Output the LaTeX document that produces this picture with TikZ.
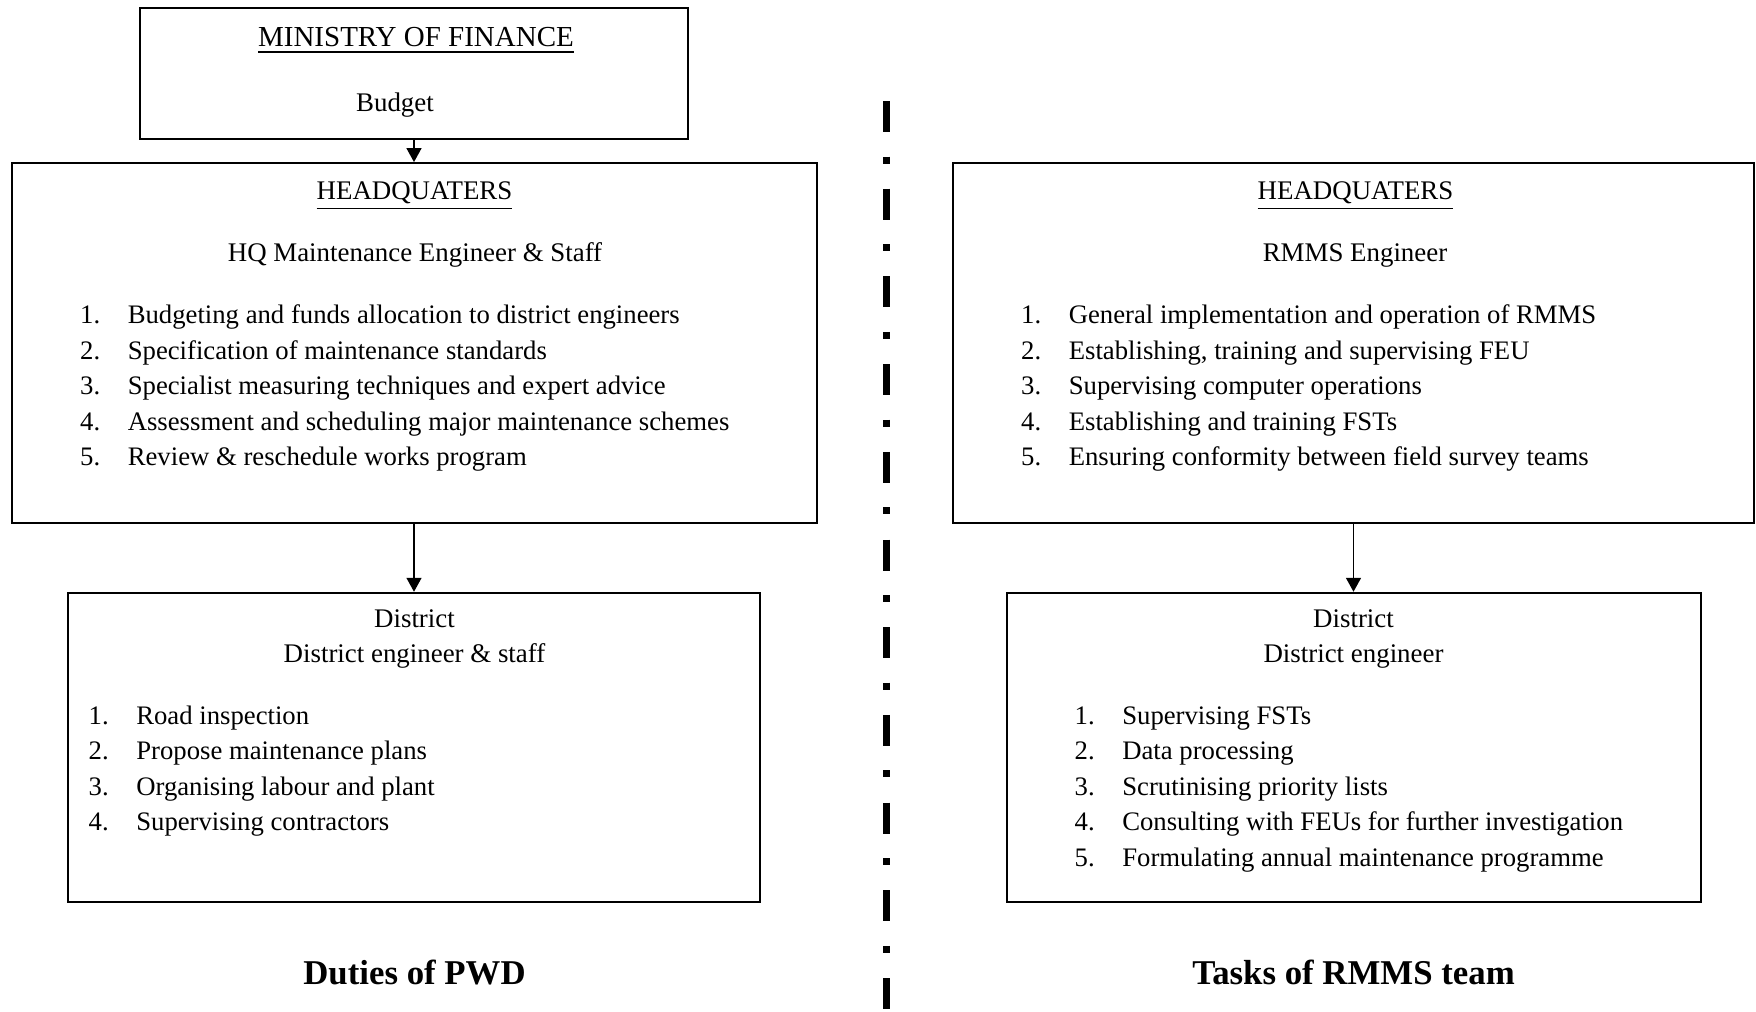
\documentclass[tikz,border=0pt]{standalone}
\usepackage{fontspec}
\setmainfont{Liberation Serif}
\usepackage{tikz}
\usetikzlibrary{arrows.meta,positioning}

\newcommand{\nitem}[2]{\makebox[4.76mm][l]{#1}#2}

\begin{document}
\begin{tikzpicture}[
  x=0.1mm, y=-0.1mm,
  box/.style={draw, line width=0.2mm, inner sep=0pt},
  txt/.style={inner sep=0pt, anchor=base, font=\fontsize{7.65}{10.1}\selectfont},
  lst/.style={inner sep=0pt, anchor=base west, font=\fontsize{7.6}{10.1}\selectfont},
  ttl/.style={inner sep=0pt, anchor=base, font=\fontsize{9.9}{11}\selectfont\bfseries},
  arrow/.style={-{Triangle[length=1.4mm, width=1.5mm]}, line width=0.15mm}
]
\useasboundingbox (0,0) rectangle (1756,1011);

\node[box, minimum width=54.8mm, minimum height=13.15mm] (mof) at (414,73.3) {};
\node[box, minimum width=80.5mm, minimum height=35.97mm] (hql) at (414,342.9) {};
\node[box, minimum width=69.2mm, minimum height=30.93mm] (distl) at (414,747.4) {};
\node[box, minimum width=80.1mm, minimum height=35.97mm] (hqr) at (1353.5,342.9) {};
\node[box, minimum width=69.4mm, minimum height=30.93mm] (distr) at (1353.5,747.4) {};

\node[txt, font=\fontsize{8.25}{10.1}\selectfont] (mofname) at (416,46.7) {\underline{MINISTRY OF FINANCE}};
\node[txt] (mofbudget) at (395,111) {Budget};

\node[txt] (hqlname) at (414.5,199) {\underline{HEADQUATERS}};
\node[txt] (hqlstaff) at (415,261) {HQ Maintenance Engineer \& Staff};
\node[lst] (hqllist) at (79.5,323.6) {\begin{tabular}[t]{@{}l@{}}
\nitem{1.}{Budgeting and funds allocation to district engineers}\\
\nitem{2.}{Specification of maintenance standards}\\
\nitem{3.}{Specialist measuring techniques and expert advice}\\
\nitem{4.}{Assessment and scheduling major maintenance schemes}\\
\nitem{5.}{Review \& reschedule works program}
\end{tabular}};

\node[txt] (distlname) at (414.5,627.7) {District};
\node[txt] (distlstaff) at (414.5,662.7) {District engineer \& staff};
\node[lst] (distllist) at (88,724) {\begin{tabular}[t]{@{}l@{}}
\nitem{1.}{Road inspection}\\
\nitem{2.}{Propose maintenance plans}\\
\nitem{3.}{Organising labour and plant}\\
\nitem{4.}{Supervising contractors}
\end{tabular}};

\node[txt] (hqrname) at (1355.5,199) {\underline{HEADQUATERS}};
\node[txt] (hqrstaff) at (1355,261) {RMMS Engineer};
\node[lst] (hqrlist) at (1020.5,323.6) {\begin{tabular}[t]{@{}l@{}}
\nitem{1.}{General implementation and operation of RMMS}\\
\nitem{2.}{Establishing, training and supervising FEU}\\
\nitem{3.}{Supervising computer operations}\\
\nitem{4.}{Establishing and training FSTs}\\
\nitem{5.}{Ensuring conformity between field survey teams}
\end{tabular}};

\node[txt] (distrname) at (1353.5,627.7) {District};
\node[txt] (distrstaff) at (1353.5,662.7) {District engineer};
\node[lst] (distrlist) at (1074,724) {\begin{tabular}[t]{@{}l@{}}
\nitem{1.}{Supervising FSTs}\\
\nitem{2.}{Data processing}\\
\nitem{3.}{Scrutinising priority lists}\\
\nitem{4.}{Consulting with FEUs for further investigation}\\
\nitem{5.}{Formulating annual maintenance programme}
\end{tabular}};

\node[ttl] (pwd) at (414.5,984) {Duties of PWD};
\node[ttl] (rmms) at (1353.5,984) {Tasks of RMMS team};

\coordinate (divtop) at (886,101);
\coordinate (divbot) at (886,1011);
\draw[line width=0.7mm, dash pattern=on 3.1mm off 2.45mm on 0.7mm off 2.52mm] (divtop) -- (divbot);

\draw[arrow] (mof) -- (hql);
\draw[arrow] (hql) -- (distl);
\draw[arrow] (hqr) -- (distr);
\end{tikzpicture}
\end{document}
